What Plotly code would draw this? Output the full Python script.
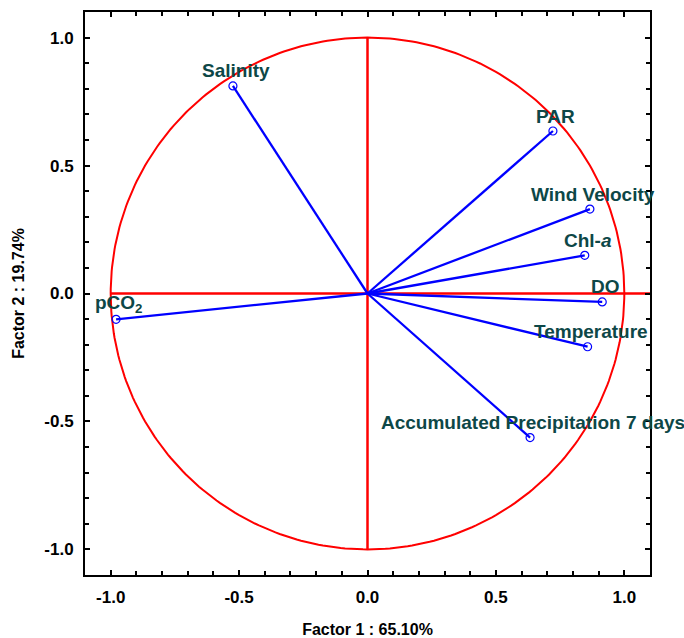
import plotly.graph_objects as go
import numpy as np

variables = ["Salinity", "PAR", "Wind Velocity", "Chl-<i>a</i>", "DO", "Temperature",
             "Accumulated Precipitation 7 days", "pCO<sub>2</sub>"]
factor1 = [-0.524, 0.722, 0.866, 0.846, 0.914, 0.857, 0.633, -0.979]
factor2 = [0.811, 0.635, 0.330, 0.149, -0.033, -0.208, -0.563, -0.101]
tick_vals = [-1.0, -0.5, 0.0, 0.5, 1.0]
tick_text = ["-1.0", "-0.5", "0.0", "0.5", "1.0"]

FONT = "Arial, Liberation Sans, sans-serif"
fig = go.Figure()

# unit circle
theta = np.linspace(0, 2 * np.pi, 361)
fig.add_trace(go.Scatter(x=np.cos(theta), y=np.sin(theta), mode="lines",
                         line=dict(color="#ff0000", width=2), hoverinfo="skip", showlegend=False))
# axes lines
fig.add_trace(go.Scatter(x=[-1, 1.1], y=[0, 0], mode="lines",
                         line=dict(color="#ff0000", width=2.5), showlegend=False))
fig.add_trace(go.Scatter(x=[0, 0], y=[-1, 1], mode="lines",
                         line=dict(color="#ff0000", width=2.5), showlegend=False))

# vectors
for fx, fy in zip(factor1, factor2):
    fig.add_trace(go.Scatter(x=[0, fx], y=[0, fy], mode="lines",
                             line=dict(color="#0000ff", width=2.3), showlegend=False))

fig.add_trace(go.Scatter(x=factor1, y=factor2, mode="markers",
                         marker=dict(symbol="circle-open", size=8, color="#0000ff",
                                     line=dict(width=1.2)),
                         showlegend=False, cliponaxis=False))

for fx, fy, name in zip(factor1, factor2, variables):
    fig.add_annotation(x=fx, y=fy, text=name, showarrow=False, xanchor="center",
                       yanchor="middle", xshift=3, yshift=15,
                       font=dict(family=FONT, size=19, color="#0d4747", weight="bold"))

axis_common = dict(range=[-1.1, 1.1], tickvals=tick_vals, ticktext=tick_text,
                   ticks="inside", ticklen=5, tickwidth=2, tickcolor="black",
                   minor=dict(dtick=0.1, tick0=0, ticks="inside", ticklen=4, tickcolor="black", tickwidth=1.5),
                   showline=True, linecolor="black", linewidth=2, mirror="ticks",
                   showgrid=False, zeroline=False, automargin=False, ticklabelstandoff=6,
                   tickfont=dict(family=FONT, size=17, color="black", weight="bold"))

fig.update_xaxes(**axis_common,
                 title=dict(text="Factor 1 : 65.10%", standoff=24,
                            font=dict(family=FONT, size=16, color="black", weight="bold")))
fig.update_yaxes(**axis_common,
                 title=dict(text="Factor 2 : 19.74%", standoff=16,
                            font=dict(family=FONT, size=16, color="black", weight="bold")))

fig.update_layout(width=684, height=638, margin=dict(l=85, r=34, t=12, b=63),
                  plot_bgcolor="white", paper_bgcolor="white")

fig.write_html("out.html", config={"displayModeBar": False},
               post_script="document.body.style.margin='0';")
